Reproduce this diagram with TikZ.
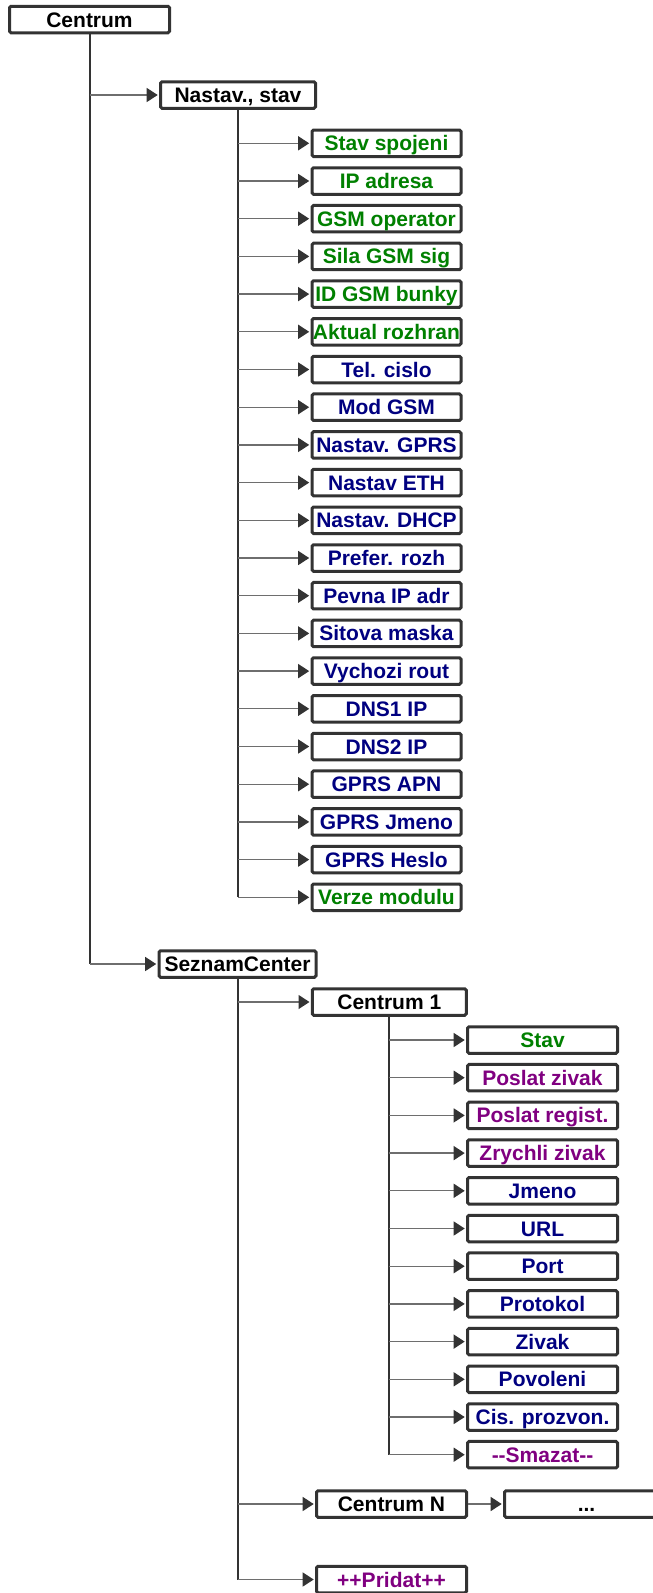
\documentclass[tikz,border=0pt]{standalone}
\usepackage{fontspec}
\setmainfont{Liberation Sans}
\usetikzlibrary{arrows.meta}
\definecolor{boxgray}{HTML}{333333}
\definecolor{linegray}{HTML}{6E6E6E}
\definecolor{stgreen}{HTML}{008000}
\definecolor{stnavy}{HTML}{000080}
\definecolor{stpurple}{HTML}{800080}
\begin{document}
\begin{tikzpicture}[x=1pt,y=-1pt]
            %
            % `menu' is used for every box of the tree.
            % `trunk' is used for the vertical lines under a box.
            % `branch' is used for the arrows into a box.
            \tikzstyle{menu} = [draw=boxgray,line width=3pt,fill=white,rounded corners=1.5pt,minimum height=26.5pt,inner sep=0pt,text height=15pt,text depth=0pt,font=\bfseries\fontsize{21}{24}\selectfont]
            \tikzstyle{lvlA} = [menu,minimum width=155pt]
            \tikzstyle{lvlB} = [menu,minimum width=149pt]
            \tikzstyle{lvlC} = [menu,minimum width=150pt]
            \tikzstyle{trunk} = [draw=boxgray,line width=2pt]
            \tikzstyle{branch} = [draw=linegray,line width=1.3pt,shorten >=1.3pt,-{Triangle[length=11pt,width=14pt,color=boxgray]}]
            \tikzstyle{info} = [text=stgreen]
            \tikzstyle{param} = [text=stnavy]
            \tikzstyle{action} = [text=stpurple]
            \path[use as bounding box,clip] (0,0) rectangle (653,1593);
            %
            % Root
            \node[menu,minimum width=160pt] (centrum) at (89.5,19.5) {Centrum};
            %
            % Level 1
            \node[lvlA] (nastav) at (238,95) {Nastav., stav};
            \node[lvlA,minimum width=157pt] (seznam) at (237.5,964) {SeznamCenter};
            %
            % Level 2 -- Nastav., stav
            \node[lvlB,info] (n1) at (386.5,143.3) {Stav spojeni};
            \node[lvlB,info] (n2) at (386.5,181.0) {IP adresa};
            \node[lvlB,info] (n3) at (386.5,218.7) {GSM operator};
            \node[lvlB,info] (n4) at (386.5,256.4) {Sila GSM sig};
            \node[lvlB,info] (n5) at (386.5,294.1) {ID GSM bunky};
            \node[lvlB,info] (n6) at (386.5,331.8) {Aktual rozhran};
            \node[lvlB,param] (n7) at (386.5,369.5) {Tel. cislo};
            \node[lvlB,param] (n8) at (386.5,407.2) {Mod GSM};
            \node[lvlB,param] (n9) at (386.5,444.9) {Nastav. GPRS};
            \node[lvlB,param] (n10) at (386.5,482.6) {Nastav ETH};
            \node[lvlB,param] (n11) at (386.5,520.3) {Nastav. DHCP};
            \node[lvlB,param] (n12) at (386.5,558.0) {Prefer. rozh};
            \node[lvlB,param] (n13) at (386.5,595.7) {Pevna IP adr};
            \node[lvlB,param] (n14) at (386.5,633.4) {Sitova maska};
            \node[lvlB,param] (n15) at (386.5,671.1) {Vychozi rout};
            \node[lvlB,param] (n16) at (386.5,708.8) {DNS1 IP};
            \node[lvlB,param] (n17) at (386.5,746.5) {DNS2 IP};
            \node[lvlB,param] (n18) at (386.5,784.2) {GPRS APN};
            \node[lvlB,param] (n19) at (386.5,821.9) {GPRS Jmeno};
            \node[lvlB,param] (n20) at (386.5,859.6) {GPRS Heslo};
            \node[lvlB,info] (n21) at (386.5,897.3) {Verze modulu};
            %
            % Level 2 -- SeznamCenter
            \node[lvlB,minimum width=154pt] (c1) at (389.3,1002) {Centrum 1};
            \node[lvlC] (cN) at (391.5,1504) {Centrum N};
            \node[lvlC,action] (pridat) at (391.5,1579.5) {++Pridat++};
            \node[menu,minimum width=164pt] (more) at (586.5,1504) {...};
            %
            % Level 3 -- Centrum 1
            \node[lvlC,info] (s1) at (542.5,1040.0) {Stav};
            \node[lvlC,action] (s2) at (542.5,1077.7) {Poslat zivak};
            \node[lvlC,action] (s3) at (542.5,1115.4) {Poslat regist.};
            \node[lvlC,action] (s4) at (542.5,1153.1) {Zrychli zivak};
            \node[lvlC,param] (s5) at (542.5,1190.8) {Jmeno};
            \node[lvlC,param] (s6) at (542.5,1228.5) {URL};
            \node[lvlC,param] (s7) at (542.5,1266.2) {Port};
            \node[lvlC,param] (s8) at (542.5,1303.9) {Protokol};
            \node[lvlC,param] (s9) at (542.5,1341.6) {Zivak};
            \node[lvlC,param] (s10) at (542.5,1379.3) {Povoleni};
            \node[lvlC,param] (s11) at (542.5,1417.0) {Cis. prozvon.};
            \node[lvlC,action] (s12) at (542.5,1454.7) {-{}-Smazat-{}-};
            %
            % Trunks
            \draw[trunk] (centrum.south) -- (centrum.south |- seznam.west);
            \draw[trunk] (nastav.south) -- (nastav.south |- n21.west);
            \draw[trunk] (seznam.south) -- (seznam.south |- pridat.west);
            \draw[trunk] (c1.south) -- (c1.south |- s12.west);
            %
            % Branches
            \foreach \dst in {nastav,seznam}
                \draw[branch] (centrum.south |- \dst.west) -- (\dst.west);
            \foreach \dst in {n1,n2,n3,n4,n5,n6,n7,n8,n9,n10,n11,n12,n13,n14,n15,n16,n17,n18,n19,n20,n21}
                \draw[branch] (nastav.south |- \dst.west) -- (\dst.west);
            \foreach \dst in {c1,cN,pridat}
                \draw[branch] (seznam.south |- \dst.west) -- (\dst.west);
            \foreach \dst in {s1,s2,s3,s4,s5,s6,s7,s8,s9,s10,s11,s12}
                \draw[branch] (c1.south |- \dst.west) -- (\dst.west);
            \draw[branch] (cN.east) -- (more.west);
        \end{tikzpicture}
\end{document}
